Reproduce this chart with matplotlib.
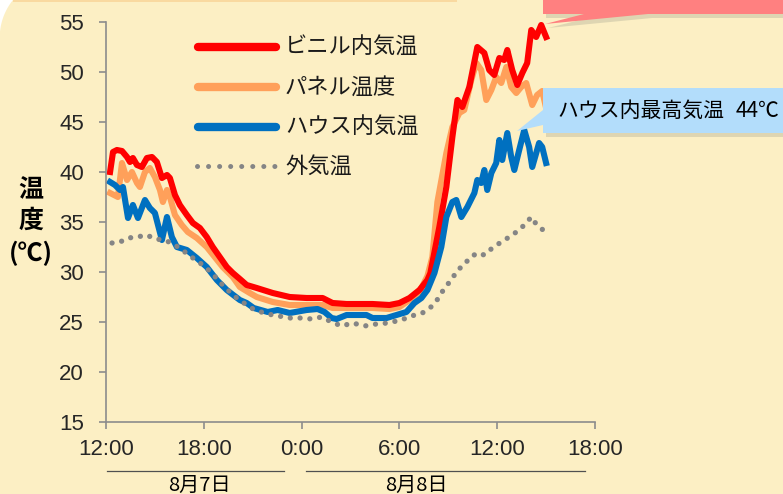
import matplotlib
matplotlib.use("Agg")
import matplotlib.pyplot as plt
from matplotlib.lines import Line2D
from matplotlib.patches import Polygon, Rectangle
import numpy as np

W, H = 783, 494

# hours after 12:00 on 8/7, temperatures in degC
red_t = [0.25, 0.43, 0.67, 0.98, 1.29, 1.47, 1.65, 1.90, 2.20, 2.51, 2.82, 3.12, 3.43, 3.74,
         3.92, 4.23, 4.53, 4.96, 5.33, 5.76, 6.18, 6.55, 6.98, 7.41, 7.78, 8.21, 8.63, 9.25,
         10.23, 11.27, 12.31, 13.29, 13.90, 14.76, 16.35, 17.39, 18.00, 18.62, 19.23, 19.72,
         19.90, 20.02, 20.45, 20.88, 21.25, 21.56, 21.86, 22.29, 22.78, 23.21, 23.51, 23.82,
         24.13, 24.43, 24.62, 24.92, 25.23, 25.54, 25.84, 26.09, 26.39, 26.70, 27.00]
red_v = [40.0, 42.0, 42.2, 42.1, 41.5, 41.0, 41.4, 40.7, 40.5, 41.4, 41.5, 41.0, 39.4, 39.7,
         39.4, 37.7, 36.7, 35.7, 34.9, 34.4, 33.5, 32.5, 31.5, 30.5, 29.9, 29.3, 28.7, 28.4,
         27.9, 27.5, 27.4, 27.4, 26.9, 26.8, 26.8, 26.7, 26.9, 27.4, 28.2, 29.2,
         29.9, 30.9, 34.5, 38.5, 43.5, 47.2, 46.5, 48.5, 52.5, 51.9, 50.2, 49.7,
         51.4, 51.2, 52.2, 50.2, 48.7, 49.9, 50.9, 54.2, 53.5, 54.7, 53.5]

panel_t = [0.25, 0.73, 0.98, 1.29, 1.59, 1.90, 2.08, 2.39, 2.69, 3.00, 3.31, 3.49, 3.74, 3.92,
           4.23, 4.65, 5.02, 5.57, 6.18, 6.67, 7.16, 7.78, 8.21, 8.82, 9.25, 10.23, 11.27,
           13.29, 13.90, 16.35, 17.39, 18.00, 18.62, 19.23, 19.72, 20.02, 20.33, 20.88, 21.25,
           21.68, 21.98, 22.41, 22.72, 23.02, 23.33, 23.64, 23.94, 24.25, 24.56, 24.86, 25.17,
           25.47, 25.78, 26.15, 26.45, 26.76, 27.00]
panel_v = [37.9, 37.5, 40.9, 39.2, 40.0, 38.9, 38.5, 40.0, 40.4, 39.5, 38.2, 37.0, 38.2, 37.5,
           35.7, 34.7, 34.0, 33.4, 32.5, 31.5, 30.5, 29.5, 28.5, 27.9, 27.5, 27.0, 26.7,
           26.7, 26.4, 26.4, 26.3, 26.5, 27.2, 28.0, 29.6, 31.5, 37.0, 41.9, 44.5,
           45.9, 46.2, 49.2, 50.9, 50.2, 47.2, 48.2, 49.5, 48.9, 50.5, 48.5, 47.9,
           48.5, 48.9, 46.7, 47.7, 48.1, 46.4]

house_t = [0.25, 0.55, 0.86, 1.04, 1.35, 1.65, 1.96, 2.39, 2.69, 3.00, 3.43, 3.74, 4.04, 4.35,
           4.96, 5.57, 6.18, 6.80, 7.41, 8.21, 8.63, 9.06, 9.92, 10.53, 11.27, 12.31, 12.98,
           13.41, 13.84, 14.15, 14.76, 15.98, 16.35, 17.21, 17.82, 18.43, 18.92, 19.35, 19.72,
           20.15, 20.57, 20.88, 21.25, 21.49, 21.80, 22.17, 22.60, 22.78, 23.02, 23.21, 23.39,
           23.64, 23.94, 24.13, 24.31, 24.62, 24.86, 25.05, 25.35, 25.66, 25.96, 26.15, 26.57,
           26.76, 27.00]
house_v = [39.0, 38.7, 38.2, 38.5, 35.4, 36.7, 35.4, 37.2, 36.4, 35.9, 33.2, 35.5, 33.5, 32.5,
           32.2, 31.4, 30.5, 29.2, 28.2, 27.2, 26.9, 26.4, 26.0, 26.2, 25.9, 26.2, 26.3,
           26.0, 25.4, 25.3, 25.7, 25.7, 25.4, 25.4, 25.7, 26.0, 26.9, 27.4, 28.2,
           29.9, 32.5, 35.5, 37.0, 37.2, 35.5, 36.5, 37.9, 39.2, 38.9, 40.2, 38.2,
           39.9, 40.9, 43.2, 41.2, 43.9, 41.5, 40.2, 42.2, 44.2, 42.5, 40.5, 42.9,
           42.5, 40.9]

out_t = [0.37, 0.86, 1.35, 1.90, 2.51, 3.00, 3.61, 4.23, 4.84, 5.33, 5.94, 6.49, 6.98, 7.47,
         8.02, 8.55, 9.12, 9.92, 10.59, 11.27, 12.00, 12.62, 13.23, 13.84, 14.45, 15.13, 15.86,
         16.59, 17.27, 18.12, 18.74, 19.41, 20.02, 20.45, 20.76, 21.19, 21.56, 21.98, 22.29,
         22.78, 23.21, 23.70, 24.25, 24.74, 25.35, 25.78, 26.09, 26.39, 26.88]
out_v = [32.9, 33.0, 33.4, 33.5, 33.7, 33.3, 33.2, 32.7, 32.0, 31.4, 30.7, 29.9, 29.0, 28.2,
         27.4, 26.8, 26.2, 25.8, 25.6, 25.4, 25.4, 25.3, 25.5, 25.0, 24.6, 24.9, 24.6,
         24.8, 24.9, 25.2, 25.6, 25.9, 26.6, 27.5, 28.4, 29.2, 30.2, 30.7, 31.4,
         31.9, 31.7, 32.4, 33.0, 33.5, 34.2, 34.9, 35.5, 34.8, 34.1]

tick_hours = [0, 6, 12, 18, 24, 30]
tick_labels = ["12:00", "18:00", "0:00", "6:00", "12:00", "18:00"]
series_names = ["ビニル内気温", "パネル温度", "ハウス内気温", "外気温"]
colors = ["#FF0000", "#FFA05A", "#0070C0", "#858585"]

BG = "#FCEFC4"
JP = ["Noto Sans CJK JP", "DejaVu Sans"]


def fx(x, y):
    return (x / W, 1 - y / H)


fig = plt.figure(figsize=(W / 100, H / 100), dpi=100)
fig.patch.set_facecolor(BG)

# white top-left corner outside the rounded panel, and thin top strip
cx, cy, r = 59.7, 37.6, 60.0
a0 = np.arctan2(0 - cy, 13 - cx)
a1 = np.arctan2(43 - cy, 0 - cx) - 2 * np.pi
arc = [fx(cx + r * np.cos(a), cy + r * np.sin(a)) for a in np.linspace(a0, a1, 30)]
fig.patches.append(Polygon([fx(0, 0)] + arc, closed=True, facecolor="white",
                           edgecolor="none", transform=fig.transFigure, zorder=0))
fig.patches.append(Rectangle(fx(13, 2.5), 444 / W, 2.5 / H, facecolor="#F9D9A0",
                             edgecolor="none", transform=fig.transFigure, zorder=0))

ax = fig.add_axes([106 / W, 1 - 422 / H, (595 - 106) / W, 400 / H])
ax.set_facecolor("none")
ax.set_xlim(0, 30)
ax.set_ylim(15, 55)

ax.plot(panel_t, panel_v, color=colors[1], lw=4.4, solid_joinstyle="round", clip_on=False)
ax.plot(red_t, red_v, color=colors[0], lw=4.4, solid_joinstyle="round", clip_on=False)
ax.plot(house_t, house_v, color=colors[2], lw=4.4, solid_joinstyle="round", clip_on=False)
ax.plot(out_t, out_v, color=colors[3], lw=3.8, linestyle=(0, (0.01, 1.85)),
        dash_capstyle="round", clip_on=False)

for s in ["top", "right"]:
    ax.spines[s].set_visible(False)
for s in ["left", "bottom"]:
    ax.spines[s].set_color("#8C8C8C")
    ax.spines[s].set_linewidth(1.2)
ax.set_yticks(range(15, 56, 5))
ax.set_xticks(tick_hours)
ax.set_xticklabels(tick_labels)
ax.tick_params(axis="both", colors="#8C8C8C", length=5, width=1.2, labelsize=16,
               labelcolor="#262626")
ax.tick_params(axis="y", pad=11)
ax.tick_params(axis="x", pad=7)
for lab in ax.get_xticklabels() + ax.get_yticklabels():
    lab.set_family("Liberation Sans")

# y label
for txt, y in [("温", 190), ("度", 221), ("(℃)", 253)]:
    fig.text(*fx(31, y), txt, ha="center", va="center", fontsize=18, fontweight="bold",
             family=JP, color="black")

# date brackets
fig.add_artist(Line2D([107 / W, 284 / W], [1 - 470.5 / H] * 2, color="#505050", lw=0.9))
fig.add_artist(Line2D([306 / W, 585 / W], [1 - 470.5 / H] * 2, color="#505050", lw=0.9))
fig.text(*fx(199, 485), "8月7日", ha="center", va="center", fontsize=14.5, family=JP)
fig.text(*fx(416, 485), "8月8日", ha="center", va="center", fontsize=14.5, family=JP)

# legend
leg_y = [47, 87, 127, 166]
for name, col, y in zip(series_names, colors, leg_y):
    if name == "外気温":
        fig.add_artist(Line2D([197 / W, 275 / W], [1 - y / H] * 2, color=col, lw=3.6,
                              linestyle=(0, (0.01, 2.2)), dash_capstyle="round"))
    else:
        fig.add_artist(Line2D([198 / W, 276 / W], [1 - y / H] * 2, color=col, lw=6,
                              solid_capstyle="round"))
    fig.text(*fx(285, y), name, ha="left", va="center", fontsize=16, family=JP,
             color="#1a1a1a")

# callouts
shadow = "#9a9a8a"
fig.patches.append(Polygon([fx(546, 4), fx(783, 4), fx(783, 18), fx(652, 18), fx(548, 28),
                            fx(588, 18), fx(546, 18)], closed=True, facecolor=shadow,
                           alpha=0.3, edgecolor="none", transform=fig.transFigure))
fig.patches.append(Polygon([fx(543, 0), fx(783, 0), fx(783, 14), fx(648, 14), fx(545, 24),
                            fx(584, 14), fx(543, 14)], closed=True, facecolor="#FF8080",
                           edgecolor="none", transform=fig.transFigure))
fig.patches.append(Rectangle(fx(546, 137), 240 / W, 45 / H, facecolor=shadow, alpha=0.3,
                             edgecolor="none", transform=fig.transFigure))
fig.patches.append(Polygon([fx(543, 88), fx(783, 88), fx(783, 133), fx(543, 133),
                            fx(543, 125), fx(517, 131), fx(543, 110)], closed=True,
                           facecolor="#B3DDFB", edgecolor="none", transform=fig.transFigure))
fig.text(*fx(557, 111), "ハウス内最高気温", ha="left", va="center", fontsize=15,
         family=JP, color="black")
fig.text(*fx(780, 111), "44℃", ha="right", va="center", fontsize=15,
         family=JP, color="black")

fig.savefig("out.png", dpi=100, facecolor=BG)
